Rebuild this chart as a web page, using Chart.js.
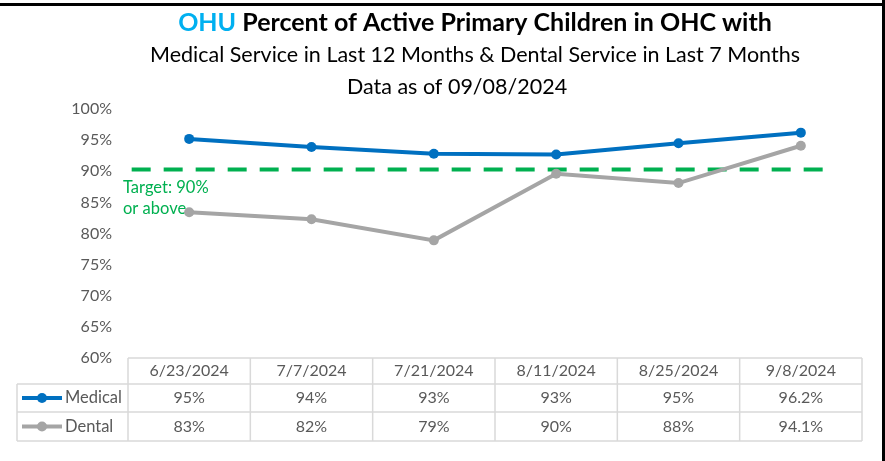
<!DOCTYPE html>
<html>
<head>
<meta charset="utf-8">
<script src="https://cdn.jsdelivr.net/npm/chart.js@4.4.1/dist/chart.umd.min.js"></script>
<style>
  html, body { margin: 0; padding: 0; background: #fff; }
  canvas { display: block; }
</style>
</head>
<body>
<canvas id="chart" width="885" height="461"></canvas>
<script>
// ----- Data -----
const categories    = ['6/23/2024', '7/7/2024', '7/21/2024', '8/11/2024', '8/25/2024', '9/8/2024'];
const medical       = [95.2, 93.9, 92.8, 92.7, 94.5, 96.2];
const dental        = [83.4, 82.3, 78.9, 89.6, 88.1, 94.1];
const medicalLabels = ['95%', '94%', '93%', '93%', '95%', '96.2%'];
const dentalLabels  = ['83%', '82%', '79%', '90%', '88%', '94.1%'];
const targetValue   = 90.3;
const yMin = 60, yMax = 100, yStep = 5;

const FONT  = 'Lato, "Open Sans", sans-serif';
const BLUE  = '#0070C0';
const GREY  = '#A5A5A5';
const GREEN = '#00B050';
const TEXT  = '#595959';
const LINE  = '#D9D9D9';

// ----- Frame (black top + right edge) -----
const framePlugin = {
  id: 'frame',
  afterDraw(chart) {
    const { ctx } = chart;
    ctx.save();
    ctx.fillStyle = '#000';
    ctx.fillRect(0, 3, 885, 3);
    ctx.fillRect(882, 0, 3, 461);
    ctx.restore();
  }
};

// ----- Three-line title, "OHU" in cyan -----
const titlePlugin = {
  id: 'titles',
  afterDraw(chart) {
    const { ctx } = chart;
    ctx.save();
    ctx.textBaseline = 'middle';
    ctx.textAlign = 'left';

    ctx.font = `bold 25px ${FONT}`;
    const a = 'OHU', b = ' Percent of Active Primary Children in OHC with';
    const wa = ctx.measureText(a).width, wb = ctx.measureText(b).width;
    let x = 475 - (wa + wb) / 2;
    ctx.fillStyle = '#00B0F0';
    ctx.fillText(a, x, 23);
    ctx.fillStyle = '#000';
    ctx.fillText(b, x + wa, 23);

    ctx.textAlign = 'center';
    ctx.font = `21.5px ${FONT}`;
    ctx.fillText('Medical Service in Last 12 Months & Dental Service in Last 7 Months', 475, 55);
    ctx.fillText('Data as of 09/08/2024', 457, 87);
    ctx.restore();
  }
};

// ----- Target dashed line + label -----
const targetPlugin = {
  id: 'target',
  beforeDatasetsDraw(chart) {
    const { ctx, scales: { x, y } } = chart;
    const step = x.getPixelForValue(1) - x.getPixelForValue(0);
    const yPix = y.getPixelForValue(targetValue);
    const x0 = x.getPixelForValue(0) - step * 0.47;
    const x1 = x.getPixelForValue(categories.length - 1) + step * 0.26;
    ctx.save();
    ctx.strokeStyle = GREEN;
    ctx.lineWidth = 4;
    ctx.setLineDash([19, 13]);
    ctx.beginPath();
    ctx.moveTo(x0, yPix);
    ctx.lineTo(x1, yPix);
    ctx.stroke();

    ctx.fillStyle = GREEN;
    ctx.font = `16.5px ${FONT}`;
    ctx.textAlign = 'left';
    ctx.textBaseline = 'middle';
    ctx.fillText('Target: 90%', 123, 188);
    ctx.fillText('or above', 123, 209);
    ctx.restore();
  }
};

// ----- Data table under the plot -----
const tablePlugin = {
  id: 'dataTable',
  afterDraw(chart) {
    const { ctx, scales: { x } } = chart;
    const step = x.getPixelForValue(1) - x.getPixelForValue(0);
    const bounds = categories.map((c, i) => x.getPixelForValue(i) - step / 2);
    bounds.push(x.getPixelForValue(categories.length - 1) + step / 2);
    const right = bounds[bounds.length - 1];
    const top = 358, r1 = 384, r2 = 412, bottom = 441, labelLeft = 17;

    ctx.save();
    ctx.strokeStyle = LINE;
    ctx.lineWidth = 1.5;
    ctx.beginPath();
    ctx.moveTo(bounds[0], top); ctx.lineTo(right, top);
    [r1, r2, bottom].forEach(yy => { ctx.moveTo(labelLeft, yy); ctx.lineTo(right, yy); });
    bounds.forEach(bx => { ctx.moveTo(bx, top); ctx.lineTo(bx, bottom); });
    ctx.moveTo(labelLeft, r1); ctx.lineTo(labelLeft, bottom);
    ctx.stroke();

    ctx.fillStyle = TEXT;
    ctx.font = `16px ${FONT}`;
    ctx.textAlign = 'center';
    ctx.textBaseline = 'middle';
    categories.forEach((c, i) => {
      const cx = x.getPixelForValue(i);
      ctx.fillText(c, cx, (top + r1) / 2);
      ctx.fillText(medicalLabels[i], cx, (r1 + r2) / 2);
      ctx.fillText(dentalLabels[i], cx, (r2 + bottom) / 2);
    });

    // legend keys
    ctx.font = `16.5px ${FONT}`;
    [[BLUE, 'Medical', (r1 + r2) / 2], [GREY, 'Dental', (r2 + bottom) / 2]].forEach(([col, name, yy]) => {
      ctx.strokeStyle = col;
      ctx.lineWidth = 4;
      ctx.beginPath();
      ctx.moveTo(22, yy); ctx.lineTo(62, yy);
      ctx.stroke();
      ctx.fillStyle = col;
      ctx.beginPath();
      ctx.arc(42, yy, 5, 0, Math.PI * 2);
      ctx.fill();
      ctx.fillStyle = TEXT;
      ctx.textAlign = 'left';
      ctx.fillText(name, 65, yy);
    });
    ctx.restore();
  }
};

new Chart(document.getElementById('chart'), {
  type: 'line',
  data: {
    labels: categories,
    datasets: [
      {
        label: 'Medical',
        data: medical,
        borderColor: BLUE,
        backgroundColor: BLUE,
        borderWidth: 4,
        pointRadius: 5,
        pointBorderWidth: 0,
        tension: 0
      },
      {
        label: 'Dental',
        data: dental,
        borderColor: GREY,
        backgroundColor: GREY,
        borderWidth: 4,
        pointRadius: 5,
        pointBorderWidth: 0,
        tension: 0
      }
    ]
  },
  options: {
    responsive: false,
    animation: false,
    devicePixelRatio: 1,
    layout: { padding: { top: 109, bottom: 103, left: 0, right: 23 } },
    plugins: {
      legend: { display: false },
      tooltip: { enabled: false }
    },
    scales: {
      x: {
        display: false,
        offset: true
      },
      y: {
        min: yMin,
        max: yMax,
        grid: { display: false, drawTicks: false },
        border: { display: false },
        afterFit: scale => { scale.width = 128; },
        ticks: {
          stepSize: yStep,
          padding: 16,
          color: TEXT,
          font: { family: FONT, size: 16 },
          callback: v => v + '%'
        }
      }
    }
  },
  plugins: [targetPlugin, tablePlugin, titlePlugin, framePlugin]
});
</script>
</body>
</html>
